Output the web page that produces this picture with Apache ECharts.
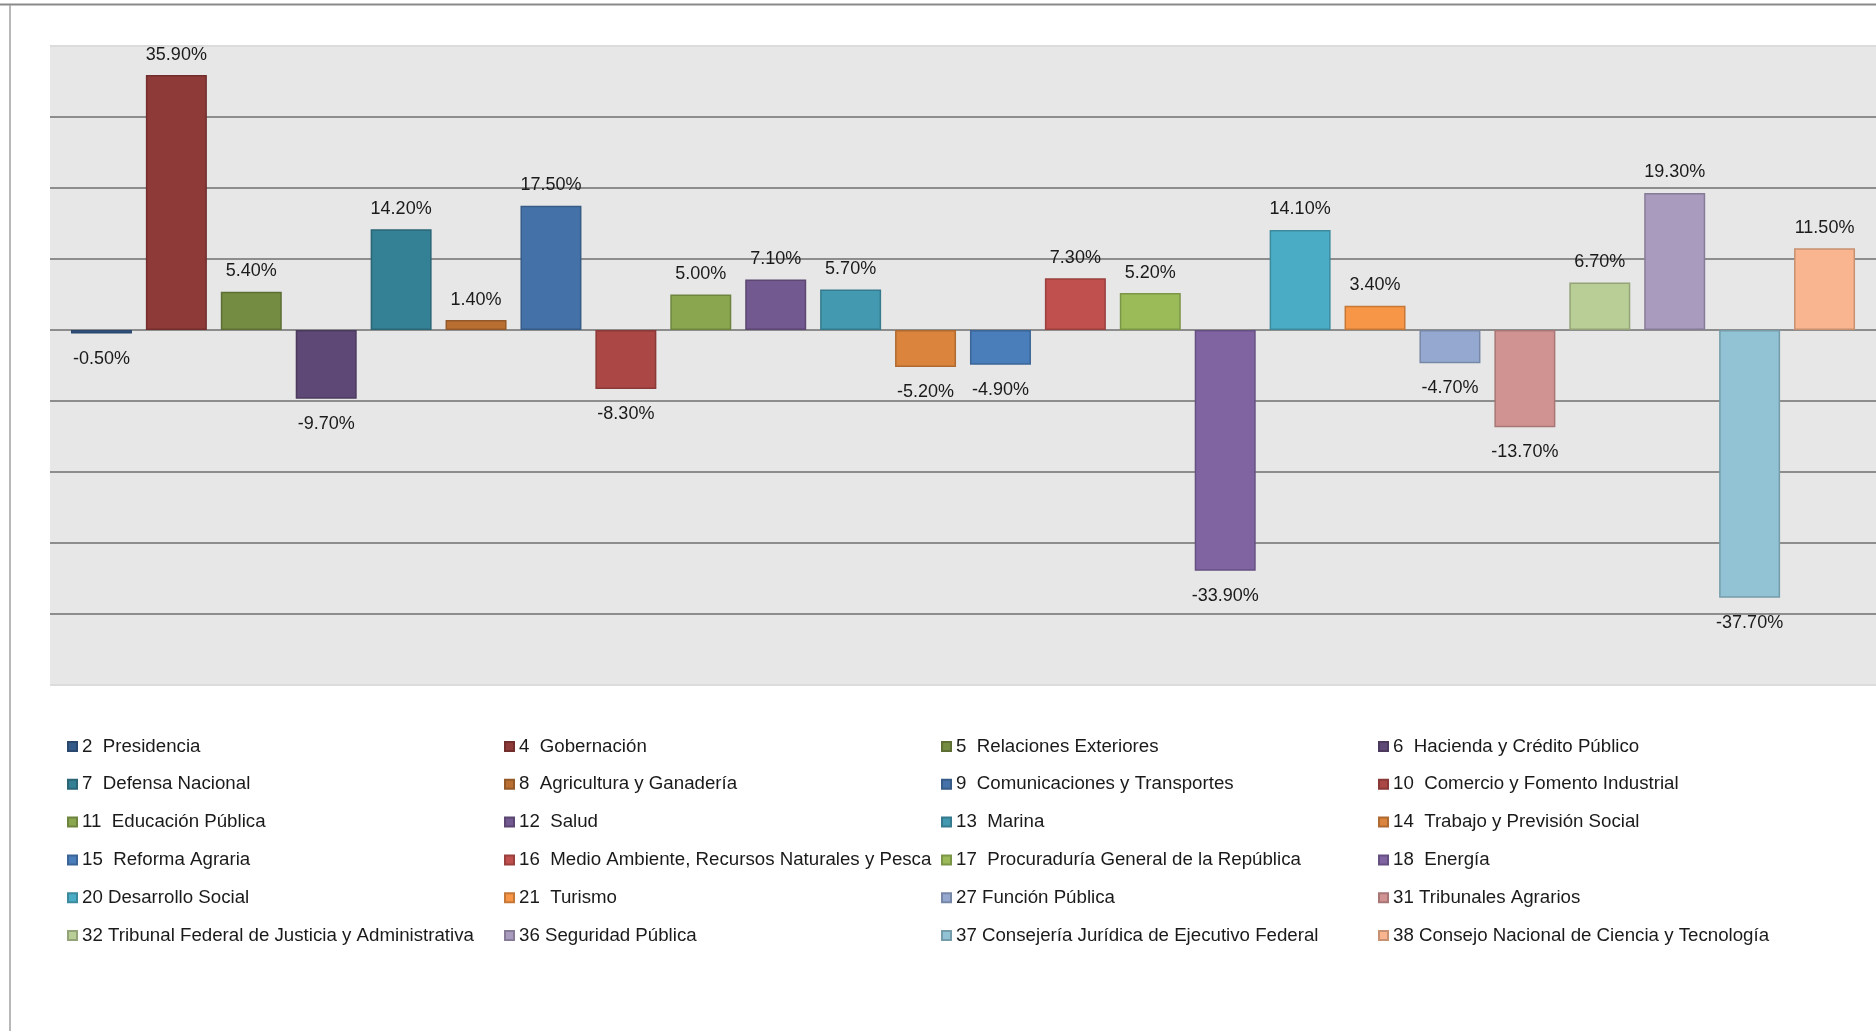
<!DOCTYPE html>
<html>
<head>
<meta charset="utf-8">
<title>Crecimiento real por dependencia</title>
<script src="https://cdn.jsdelivr.net/npm/echarts@6/dist/echarts.min.js"></script>
<style>
  html, body { margin: 0; padding: 0; background: #fff; }
  #chart { width: 1876px; height: 1031px; }
</style>
</head>
<body>
<div id="chart"></div>
<script>
// dependencias (en el orden de las barras / leyenda)
var names = [
  "2  Presidencia",
  "4  Gobernación",
  "5  Relaciones Exteriores",
  "6  Hacienda y Crédito Público",
  "7  Defensa Nacional",
  "8  Agricultura y Ganadería",
  "9  Comunicaciones y Transportes",
  "10  Comercio y Fomento Industrial",
  "11  Educación Pública",
  "12  Salud",
  "13  Marina",
  "14  Trabajo y Previsión Social",
  "15  Reforma Agraria",
  "16  Medio Ambiente, Recursos Naturales y Pesca",
  "17  Procuraduría General de la República",
  "18  Energía",
  "20 Desarrollo Social",
  "21  Turismo",
  "27 Función Pública",
  "31 Tribunales Agrarios",
  "32 Tribunal Federal de Justicia y Administrativa",
  "36 Seguridad Pública",
  "37 Consejería Jurídica de Ejecutivo Federal",
  "38 Consejo Nacional de Ciencia y Tecnología"
];

// crecimiento real (%)
var values = [
  -0.5, 35.9, 5.4, -9.7, 14.2, 1.4, 17.5, -8.3, 5.0, 7.1, 5.7, -5.2,
  -4.9, 7.3, 5.2, -33.9, 14.1, 3.4, -4.7, -13.7, 6.7, 19.3, -37.7, 11.5
];

var colors = [
  "#345a8a", "#8e3a38", "#748b42", "#5e4876", "#348094", "#b96f32",
  "#4472a8", "#ab4745", "#8aa64f", "#72598f", "#4299b0", "#db843d",
  "#4a7ebb", "#c0504d", "#9bbb59", "#8064a2", "#4bacc6", "#f79646",
  "#95a9d0", "#d19392", "#b9cd96", "#a99bbd", "#92c3d4", "#f9b58f"
];

// eje de valores (sin etiquetas visibles)
var yMin = -50;
var yMax = 40;
var yStep = 10;

var FONT = "'Liberation Sans', Arial, sans-serif";

function darken(hex, f) {
  var n = parseInt(hex.slice(1), 16);
  var r = Math.round(((n >> 16) & 255) * f);
  var g = Math.round(((n >> 8) & 255) * f);
  var b = Math.round((n & 255) * f);
  return "rgb(" + r + "," + g + "," + b + ")";
}

var chart = echarts.init(document.getElementById("chart"));

// una serie por dependencia, todas en la misma pila
var seriesArr = names.map(function (name, i) {
  var neg = values[i] < 0;
  return {
    name: name,
    type: "bar",
    xAxisIndex: 1,
    yAxisIndex: 1,
    stack: "total",
    barCategoryGap: "18.6%",
    data: names.map(function (n, j) {
      return j === i ? values[i] : "-";
    }),
    itemStyle: {
      color: colors[i],
      borderColor: darken(colors[i], 0.8),
      borderWidth: 1.5
    },
    label: {
      show: true,
      position: neg ? "bottom" : "top",
      distance: neg ? 16 : 11.5,
      color: "#1a1a1a",
      fontFamily: FONT,
      fontSize: 18,
      formatter: function (p) {
        return p.value.toFixed(2) + "%";
      }
    },
    emphasis: { disabled: true },
    animation: false
  };
});

// leyenda en 4 columnas
var colLeft = [67, 504, 941, 1378];
var legends = colLeft.map(function (x, col) {
  return {
    orient: "vertical",
    left: x,
    top: 736.5,
    itemGap: 17.8,
    itemWidth: 9,
    itemHeight: 9,
    icon: "rect",
    selectedMode: false,
    padding: 0,
    data: names.filter(function (n, i) {
      return i % 4 === col;
    }),
    textStyle: {
      color: "#1a1a1a",
      fontFamily: FONT,
      fontSize: 18.7,
      lineHeight: 20
    }
  };
});

chart.setOption({
  animation: false,
  textStyle: { fontFamily: FONT },
  grid: [
    // fondo gris y líneas de división
    {
      left: 50,
      right: 0,
      top: 46,
      bottom: 346,
      show: true,
      backgroundColor: "#e7e7e7",
      borderWidth: 0
    },
    // barras
    {
      left: 64,
      right: 14,
      top: 46,
      bottom: 346
    }
  ],
  xAxis: [
    {
      gridIndex: 0,
      type: "value",
      min: 0,
      max: 1,
      show: false
    },
    {
      gridIndex: 1,
      type: "category",
      data: names,
      axisLine: { show: false },
      axisTick: { show: false },
      axisLabel: { show: false },
      splitLine: { show: false }
    }
  ],
  yAxis: [
    {
      gridIndex: 0,
      type: "value",
      min: yMin,
      max: yMax,
      interval: yStep,
      axisLine: { show: false },
      axisTick: { show: false },
      axisLabel: { show: false },
      splitLine: {
        show: true,
        lineStyle: {
          width: 2,
          color: ["#dcdcdc", "#8d8d8d", "#8d8d8d", "#8d8d8d", "#8d8d8d",
                  "#8d8d8d", "#8d8d8d", "#8d8d8d", "#8d8d8d", "#dcdcdc"]
        }
      }
    },
    {
      gridIndex: 1,
      type: "value",
      min: yMin,
      max: yMax,
      interval: yStep,
      axisLine: { show: false },
      axisTick: { show: false },
      axisLabel: { show: false },
      splitLine: { show: false }
    }
  ],
  legend: legends,
  // marco del gráfico
  graphic: [
    {
      type: "line",
      shape: { x1: 0, y1: 4.5, x2: 1876, y2: 4.5 },
      style: { stroke: "#8a8a8a", lineWidth: 2 }
    },
    {
      type: "line",
      shape: { x1: 10, y1: 5, x2: 10, y2: 1031 },
      style: { stroke: "#a0a0a0", lineWidth: 1.5 }
    }
  ],
  series: seriesArr
});
</script>
</body>
</html>
